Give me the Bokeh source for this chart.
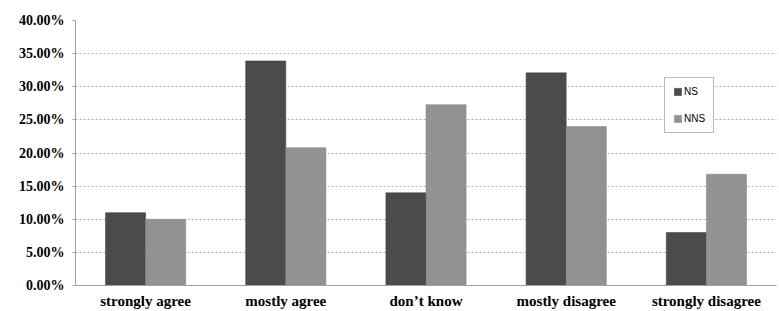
from bokeh.plotting import figure
from bokeh.models import ColumnDataSource, FactorRange, NumeralTickFormatter, Legend, LegendItem, Range1d
from bokeh.transform import dodge
from bokeh.embed import file_html
from bokeh.resources import INLINE

categories = ["strongly agree", "mostly agree", "don\u2019t know", "mostly disagree", "strongly disagree"]
ns = [0.110, 0.339, 0.140, 0.321, 0.080]
nns = [0.100, 0.208, 0.273, 0.240, 0.168]
series_names = ["NS", "NNS"]

src = ColumnDataSource(dict(cat=categories, ns=ns, nns=nns))

SERIF = "Times New Roman"

p = figure(x_range=FactorRange(*categories, range_padding=0), y_range=Range1d(0, 0.40),
           width=779, height=311, output_backend="svg", toolbar_location=None,
           min_border_left=75, min_border_right=3, min_border_top=20, min_border_bottom=25)
p.outline_line_color = None
p.background_fill_color = "white"

r1 = p.vbar(x=dodge("cat", -0.143, range=p.x_range), top="ns", width=0.286, source=src,
            fill_color="#4b4b4b", line_color="#3a3a3a", line_width=0.5)
r2 = p.vbar(x=dodge("cat", 0.143, range=p.x_range), top="nns", width=0.286, source=src,
            fill_color="#929292", line_color="#808080", line_width=0.5)

p.yaxis.ticker = [i * 0.05 for i in range(9)]
p.yaxis.formatter = NumeralTickFormatter(format="0.00%")
p.yaxis.major_label_text_font = SERIF
p.yaxis.major_label_text_font_style = "bold"
p.yaxis.major_label_text_font_size = "14px"
p.yaxis.major_label_text_color = "black"
p.yaxis.axis_line_color = "#a0a0a0"
p.yaxis.major_tick_line_color = "#a0a0a0"
p.yaxis.major_tick_out = 3
p.yaxis.major_tick_in = 0
p.yaxis.minor_tick_line_color = None
p.yaxis.major_label_standoff = 8

p.xaxis.major_label_text_font = SERIF
p.xaxis.major_label_text_font_style = "bold"
p.xaxis.major_label_text_font_size = "15px"
p.xaxis.major_label_text_color = "black"
p.xaxis.axis_line_color = "#a0a0a0"
p.xaxis.major_tick_line_color = None
p.xaxis.major_label_standoff = 1

p.xgrid.grid_line_color = None
p.ygrid.grid_line_color = "#b0b0b0"
p.ygrid.grid_line_dash = "2 2"
p.ygrid.grid_line_width = 1

legend = Legend(items=[LegendItem(label=series_names[0], renderers=[r1]),
                       LegendItem(label=series_names[1], renderers=[r2])],
                location=(589, 152), orientation="vertical")
legend.label_text_font = "Liberation Sans"
legend.label_text_font_size = "10px"
legend.label_text_color = "black"
legend.glyph_width = 9
legend.glyph_height = 9
legend.spacing = 16
legend.padding = 8
legend.margin = 0
legend.label_standoff = 2
legend.border_line_color = "#777777"
legend.border_line_width = 1
legend.background_fill_alpha = 1
p.add_layout(legend, "center")

open("out.html", "w").write(file_html(p, INLINE))
